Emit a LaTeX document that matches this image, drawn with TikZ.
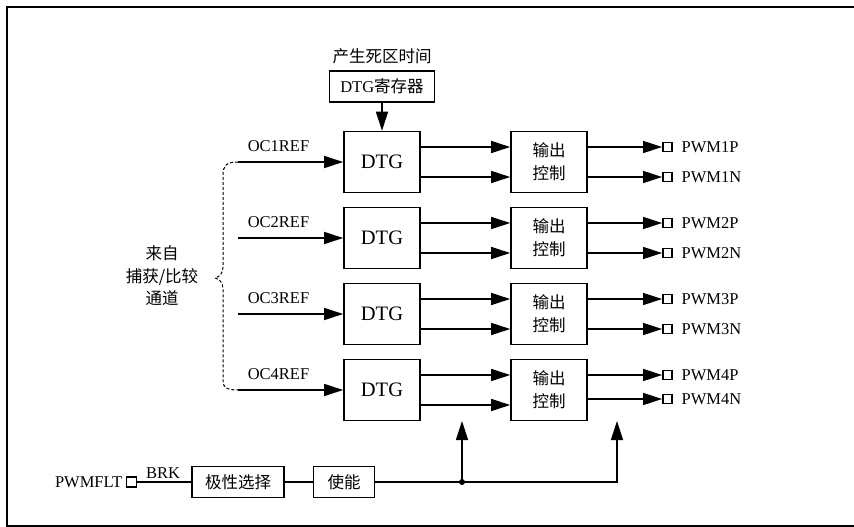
\documentclass[tikz,border=0pt]{standalone}
\usepackage{fontspec}
\setmainfont{Liberation Serif}
\newfontfamily\cjk{Noto Sans CJK SC}
\usetikzlibrary{arrows.meta}

\begin{document}
\begin{tikzpicture}[x=1pt,y=-1pt,
  every node/.style={font=\fontsize{16.5}{20}\selectfont},
  blk/.style={draw,line width=1.6pt,minimum width=76pt,minimum height=61pt,inner sep=0pt},
  smallblk/.style={draw,line width=1.6pt,minimum height=31pt,inner sep=0pt},
  pin/.style={draw,line width=1.8pt,minimum size=9pt,inner sep=0pt},
  sig/.style={line width=1.3pt,-{Triangle[length=19pt,width=12pt]}},
  wire/.style={line width=1.3pt}]
\useasboundingbox (0,0) rectangle (854,527);
\draw[line width=2.4pt] (7,7) rectangle (858,526);

% dead time register
\node (dtlbl) at (382,56) {\cjk 产生死区时间};
\node[smallblk,minimum width=105pt] (reg) at (382,86.5) {DTG{\cjk 寄存器}};

% four channels
\foreach \i/\y/\n in {1/162/15, 2/238/15, 3/314/15, 4/390/9} {
  \node[blk,font=\fontsize{20.5}{24}\selectfont] (dtg\i) at (382,\y) {DTG};
  \node[blk,align=center,font=\cjk\fontsize{16.5}{23}\selectfont] (out\i) at (549,\y) {输出\\控制};
  \coordinate (in\i) at (238,\y);
  \node[inner sep=0pt] (oc\i) at (278.5,\y-16) {OC\i REF};
  \draw[sig] (in\i) -- (dtg\i);
  \draw[sig] ([yshift=15pt]dtg\i.east) -- ([yshift=15pt]out\i.west);
  \draw[sig] ([yshift=-15pt]dtg\i.east) -- ([yshift=-15pt]out\i.west);
  \node[pin] (p\i) at (667.5,\y-15) {};
  \node[pin] (n\i) at (667.5,\y+\n) {};
  \draw[sig] (out\i.east |- p\i) -- (p\i);
  \draw[sig] (out\i.east |- n\i) -- (n\i);
  \node[anchor=west,inner sep=0pt] (pl\i) at (681.5,\y-15) {PWM\i P};
  \node[anchor=west,inner sep=0pt] (nl\i) at (681.5,\y+\n) {PWM\i N};
}
\draw[sig] (reg) -- (dtg1);

% source brace
\draw[line width=1pt,dash pattern=on 3pt off 2pt]
  (in1) .. controls (226,162) and (223,166) .. (223,175) -- (223,267)
  .. controls (223,274) and (219,277) .. (215,278)
  .. controls (219,279) and (223,282) .. (223,289) -- (223,381)
  .. controls (223,387) and (226,390) .. (in4);
\node[align=center,font=\cjk\fontsize{16.5}{22.5}\selectfont] (src) at (162,276) {来自\\捕获/比较\\通道};

% break input
\node[pin,minimum size=10pt] (flt) at (131.5,482) {};
\node[anchor=east,inner sep=0pt] (fltlbl) at (122.5,482) {PWMFLT};
\node[inner sep=0pt] (brk) at (163,473.5) {BRK};
\node[smallblk,minimum width=92pt,font=\cjk\fontsize{16.5}{20}\selectfont] (pol) at (238,482) {极性选择};
\node[smallblk,minimum width=61pt,font=\cjk\fontsize{16.5}{20}\selectfont] (en) at (344,482) {使能};
\coordinate (j1) at (462,482);
\coordinate (j2) at (617,482);
\coordinate (t1) at (462,421);
\coordinate (t2) at (617,421);
\draw[wire] (flt) -- (pol);
\draw[wire] (pol) -- (en);
\draw[sig] (en) -- (j2) -- (t2);
\draw[sig] (j1) -- (t1);
\fill (j1) circle (3pt);
\end{tikzpicture}
\end{document}
